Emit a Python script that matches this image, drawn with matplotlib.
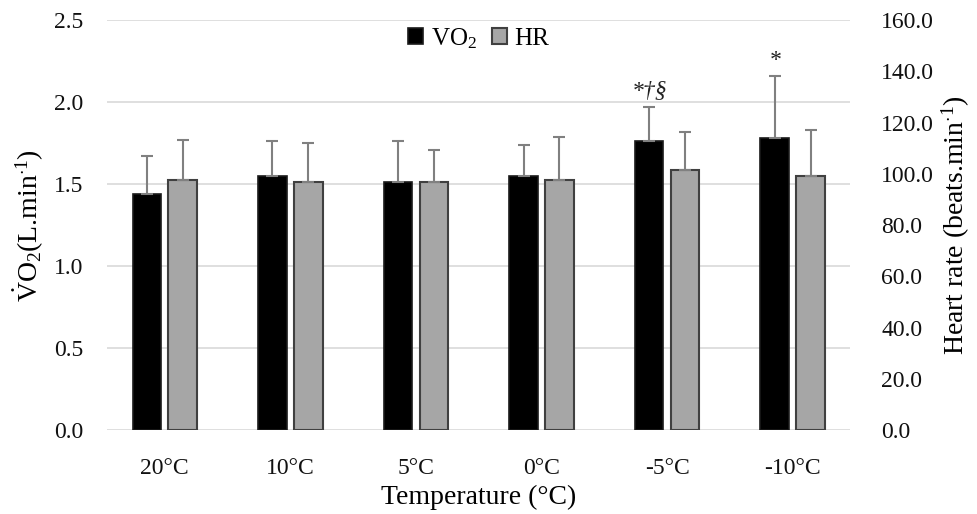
import matplotlib
matplotlib.use("Agg")
import matplotlib.pyplot as plt
import numpy as np

categories = ["20°C", "10°C", "5°C", "0°C", "-5°C", "-10°C"]
vo2 = [1.44, 1.55, 1.51, 1.55, 1.76, 1.78]
vo2_sd = [0.23, 0.21, 0.25, 0.19, 0.21, 0.38]
hr = [97.5, 96.6, 96.6, 97.5, 101.3, 99.0]
hr_sd = [15.7, 15.4, 12.7, 16.7, 15.0, 17.9]
annotations = ["", "", "", "", "*†§", "*"]

plt.rcParams['font.family'] = ['Liberation Serif', 'DejaVu Serif']
plt.rcParams['mathtext.fontset'] = 'custom'
plt.rcParams['mathtext.rm'] = 'Liberation Serif'
plt.rcParams['mathtext.it'] = 'Liberation Serif:italic'

fig = plt.figure(figsize=(9.77, 5.14), dpi=100)
ax = fig.add_axes([0.1095, 0.1634, 0.761, 0.7976])
ax2 = ax.twinx()

x = np.arange(len(categories))
w = 0.227
off = 0.143
err_kw = dict(ecolor='#808080', elinewidth=1.5, capsize=4.6, capthick=1.5)

ax.bar(x - off, vo2, w, color='#000000', edgecolor='#1a1a1a', linewidth=1.2,
       yerr=[np.zeros(len(vo2)), vo2_sd], error_kw=err_kw, zorder=3, label='VO$_2$')
ax2.bar(x + off, hr, w, color='#a6a6a6', edgecolor='#404040', linewidth=1.5,
        yerr=[np.zeros(len(hr)), hr_sd], error_kw=err_kw, zorder=3, label='HR')

for i, t in enumerate(annotations):
    if t:
        ax.text(x[i] - off, vo2[i] + vo2_sd[i] + 0.03, t, ha='center', va='bottom',
                fontsize=17, style='italic', color='#222222')

ax.set_ylim(0, 2.5)
ax2.set_ylim(0, 160)
ax.set_xlim(-0.46, 5.46)
ax.set_yticks(np.arange(0, 2.51, 0.5))
ax.set_yticklabels([f"{v:.1f}" for v in np.arange(0, 2.51, 0.5)])
ax2.set_yticks(np.arange(0, 161, 20))
ax2.set_yticklabels([f"{v:.1f}" for v in np.arange(0, 161, 20)])
ax.set_xticks(x)
ax.set_xticklabels(categories)

ax.grid(axis='y', color='#d9d9d9', linewidth=1.2, zorder=0)
ax.set_axisbelow(True)
for a in (ax, ax2):
    for s in a.spines.values():
        s.set_visible(False)
    a.tick_params(length=0, labelsize=17, colors='#111111')
ax.tick_params(axis='x', pad=20)
ax.tick_params(axis='y', pad=17)
ax2.tick_params(axis='y', pad=22)

ax.set_ylabel(r'$\dot{\mathrm{V}}$O$_2$(L.min$^{\cdot1}$)', fontsize=20, labelpad=6)
ax2.set_ylabel(r'Heart rate (beats.min$^{\cdot1}$)', fontsize=20, labelpad=4)
ax.set_xlabel('Temperature (°C)', fontsize=20, labelpad=4)

h1, l1 = ax.get_legend_handles_labels()
h2, l2 = ax2.get_legend_handles_labels()
leg = ax.legend(h1 + h2, l1 + l2, loc='upper center', bbox_to_anchor=(0.5, 1.04),
                ncol=2, frameon=False, fontsize=18, handlelength=0.6, handleheight=0.6,
                columnspacing=0.6, handletextpad=0.3)

fig.savefig('out.png', dpi=100)
